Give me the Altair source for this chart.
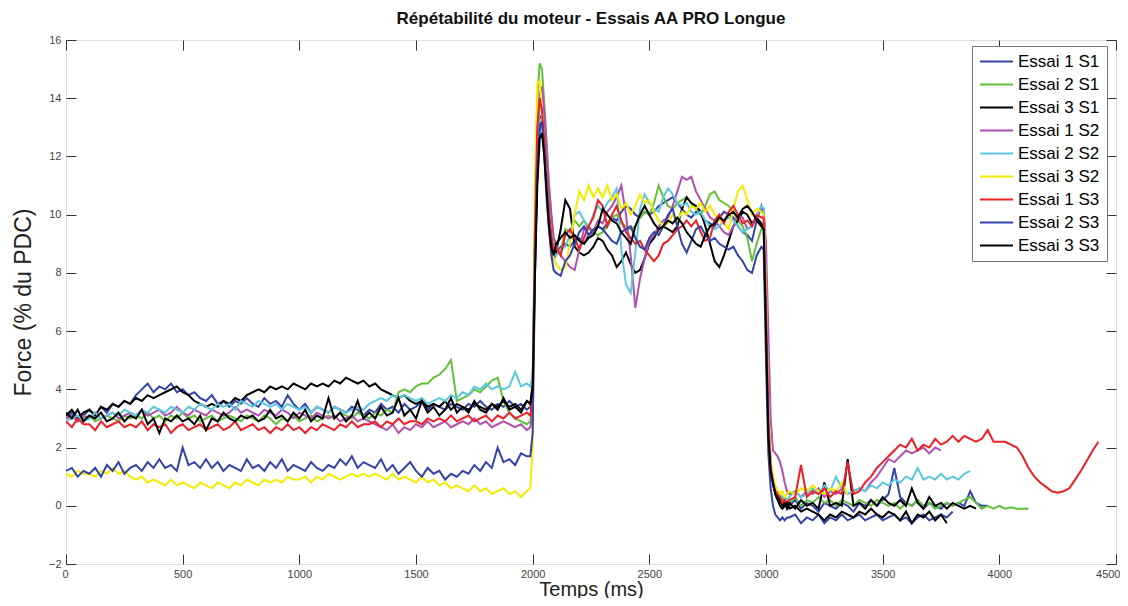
import altair as alt
import pandas as pd

SERIES = ["Essai 1 S1", "Essai 2 S1", "Essai 3 S1", "Essai 1 S2", "Essai 2 S2",
          "Essai 3 S2", "Essai 1 S3", "Essai 2 S3", "Essai 3 S3"]
COLORS = ["#3443a8", "#62c03a", "#000000", "#b24fb2", "#5cc8de",
          "#f4ec00", "#ee1f26", "#3443a8", "#000000"]

# sampling grid (ms)
T_BASE = list(range(0, 2000, 25))
T_PEAK = [1990, 2000, 2010, 2020, 2030, 2040, 2050, 2060, 2070, 2080, 2090]
T_PLAT = list(range(2100, 3000, 20))
T_DROP = [2990, 3000, 3010, 3020, 3030, 3040, 3050, 3060, 3070, 3080, 3090]
T_TAIL = list(range(3100, 4450, 25))
T_ALL = T_BASE + T_PEAK + T_PLAT + T_DROP + T_TAIL

E1S1 = ([3.0, 3.2, 2.9, 3.1, 3.3, 3.1, 3.4, 3.2, 3.5, 3.4, 3.6, 3.5, 3.8, 4.0, 4.2, 3.9,
         4.1, 4.0, 4.2, 3.9, 4.0, 3.8, 3.9, 3.7, 3.6, 3.8, 3.5, 3.6, 3.4, 3.6, 3.5, 3.7,
         3.5, 3.4, 3.7, 3.5, 3.6, 3.4, 3.8, 3.5, 3.3, 3.5, 3.2, 3.4, 3.3, 3.2, 3.4, 3.3,
         3.2, 3.4, 3.3, 3.1, 3.3, 3.2, 3.5, 3.3, 3.4, 3.2, 3.5, 3.3, 3.4, 3.6, 3.3, 3.5,
         3.4, 3.3, 3.5, 3.4, 3.3, 3.5, 3.4, 3.6, 3.4, 3.3, 3.5, 3.4, 3.6, 3.4, 3.5, 3.3]
        + [3.4, 4.0, 9.0, 12.0, 13.4, 13.3, 12.2, 10.8, 9.6, 8.8, 8.5]
        + [8.6, 8.9, 9.0, 8.9, 9.1, 9.2, 9.0, 9.3, 9.4, 9.6, 9.5, 9.7, 9.9, 9.8, 10.1,
           10.3, 10.2, 10.0, 9.9, 10.1, 10.0, 10.1, 10.3, 10.4, 10.5, 10.6, 10.4, 10.2, 10.0, 9.9,
           10.1, 10.0, 9.8, 9.7, 9.6, 9.9, 10.1, 10.0, 9.9, 9.6, 9.4, 9.3, 9.1, 9.8, 10.3]
        + [10.0, 6.0, 2.5, 1.2, 0.7, 0.4, 0.2, 0.1, 0.2, 0.0, 0.1]
        + [0.0, 0.2, -0.1, 0.1, 0.0, -0.2, 0.1, 0.0, -0.1, 0.1, 0.0, -0.2, 0.1, 0.0, 0.2, 0.0,
           0.2, 0.4, 1.3, 0.3, 0.1, 0.0, 0.2, -0.1, 0.1, 0.0, -0.1, 0.1, 0.0, 0.1, 0.0, 0.5,
           0.1, 0.0, 0.0])

E2S1 = ([3.0, 3.1, 2.9, 3.0, 3.1, 2.9, 3.0, 3.1, 3.0, 2.9, 3.1, 3.0, 3.1, 3.0, 3.2, 3.0,
         3.1, 2.9, 3.1, 3.0, 3.2, 3.0, 3.1, 2.9, 3.0, 3.1, 2.9, 3.0, 3.1, 3.0, 2.9, 3.1,
         3.0, 2.9, 3.1, 3.0, 2.8, 3.0, 2.9, 3.1, 2.9, 3.0, 3.1, 2.9, 3.0, 3.1, 3.0, 3.2,
         3.1, 3.0, 3.2, 3.1, 3.0, 3.2, 3.1, 3.3, 3.2, 3.9, 4.0, 3.9, 4.1, 4.2, 4.2, 4.4,
         4.5, 4.7, 5.0, 3.6, 3.7, 3.8, 4.0, 3.9, 4.1, 4.3, 4.4, 3.6, 3.2, 3.0, 2.9, 2.8]
        + [2.9, 4.0, 10.0, 14.0, 15.2, 15.0, 13.8, 12.5, 11.0, 10.0, 9.2]
        + [8.9, 8.7, 9.5, 9.4, 9.8, 9.6, 9.8, 9.5, 9.4, 9.3, 9.4, 9.6, 9.9, 10.0, 9.7,
           9.6, 9.5, 9.6, 9.9, 10.1, 10.0, 10.4, 11.0, 10.6, 10.3, 10.2, 10.4, 10.5, 10.6, 10.4,
           10.2, 10.0, 10.3, 10.7, 10.8, 10.5, 10.4, 10.3, 10.1, 9.8, 9.6, 9.2, 8.4, 9.0, 9.5]
        + [9.6, 7.0, 3.0, 1.5, 0.9, 0.6, 0.4, 0.3, 0.2, 0.3, 0.1]
        + [0.1, 0.3, 0.0, 0.2, 0.1, 0.3, 0.1, 0.2, 0.0, 0.2, 0.1, 0.0, 0.2, 0.1, 0.0, 0.2,
           0.1, 0.0, 0.1, -0.1, 0.1, 0.0, 0.2, 0.0, 0.1, -0.1, 0.0, 0.1, 0.0, 0.1, 0.2, 0.3,
           0.1, -0.1, 0.0, -0.1, 0.0, -0.1, -0.05, -0.1, -0.1, -0.1])

E3S1 = ([3.1, 3.3, 3.0, 3.2, 3.3, 3.1, 3.4, 3.3, 3.5, 3.4, 3.6, 3.5, 3.7, 3.6, 3.8, 3.7,
         3.8, 3.9, 4.0, 4.1, 3.9, 3.8, 3.6, 3.5, 3.4, 3.5, 3.4, 3.6, 3.5, 3.7, 3.6, 3.8,
         3.9, 4.0, 3.9, 4.1, 4.0, 4.1, 4.0, 4.2, 4.1, 4.0, 4.2, 4.1, 4.2, 4.1, 4.3, 4.2,
         4.4, 4.3, 4.2, 4.3, 4.1, 4.2, 4.0, 3.9, 3.8, 3.7, 3.8, 3.6, 3.5, 3.6, 3.4, 3.5,
         3.4, 3.6, 3.3, 3.5, 3.4, 3.3, 3.5, 3.4, 3.3, 3.5, 3.4, 3.6, 3.4, 3.5, 3.3, 3.6]
        + [3.5, 4.2, 8.5, 11.5, 13.0, 13.2, 12.5, 11.2, 10.0, 9.2, 8.8]
        + [8.7, 9.5, 10.5, 10.2, 8.9, 8.7, 8.6, 8.7, 8.9, 9.2, 9.1, 8.8, 8.6, 8.2, 8.4,
           8.7, 8.3, 8.0, 8.1, 8.5, 9.0, 9.2, 9.5, 9.6, 9.5, 9.4, 9.6, 10.2, 10.6, 10.4,
           10.3, 10.1, 9.6, 9.0, 8.4, 8.2, 8.6, 9.1, 9.6, 9.8, 10.1, 10.0, 9.7, 9.9, 9.7]
        + [9.6, 6.5, 2.8, 1.4, 0.9, 0.6, 0.3, 0.2, 0.0, 0.1, -0.1]
        + [0.1, -0.1, 0.2, 0.0, 0.1, -0.1, 0.8, 0.0, 0.1, 0.0, 1.6, 0.0, 0.1, -0.1, 0.2, 0.0,
           0.3, 0.1, 0.0, 0.2, 0.0, 0.6, 0.1, -0.1, 0.3, 0.0, 0.1, -0.1, 0.1, 0.0, -0.1, 0.0,
           -0.1])

E1S2 = ([3.0, 3.1, 2.9, 3.1, 3.0, 3.2, 3.0, 3.1, 3.2, 3.0, 3.1, 3.2, 3.1, 3.3, 3.1, 3.2,
         3.3, 3.1, 3.2, 3.4, 3.2, 3.1, 3.3, 3.2, 3.1, 3.3, 3.2, 3.1, 3.2, 3.4, 3.2, 3.3,
         3.2, 3.1, 3.3, 3.2, 3.1, 3.3, 3.2, 3.0, 3.2, 3.1, 3.0, 3.2, 3.1, 3.0, 3.1, 2.9,
         3.0, 3.1, 2.9, 3.0, 2.9, 2.8, 2.7, 2.6, 2.8, 2.5, 2.7, 2.6, 2.8, 2.7, 2.9, 2.7,
         2.8, 2.9, 2.7, 2.8, 2.9, 2.8, 3.0, 2.8, 2.9, 2.7, 2.8, 2.9, 2.8, 2.7, 2.8, 2.6]
        + [2.7, 3.2, 8.0, 12.5, 14.2, 14.4, 13.5, 12.2, 11.0, 10.0, 9.2]
        + [9.0, 8.6, 8.4, 8.2, 8.1, 8.8, 9.5, 9.6, 9.4, 9.8, 9.7, 10.1, 10.3, 10.6, 11.0,
           10.0, 8.6, 6.8, 7.8, 8.5, 9.1, 9.3, 9.6, 9.8, 9.9, 10.3, 10.8, 11.3, 11.2, 11.3,
           10.8, 10.5, 10.2, 9.9, 9.8, 9.6, 9.4, 9.3, 9.6, 10.0, 9.9, 9.5, 9.6, 9.9, 10.2]
        + [10.2, 9.0, 6.0, 3.0, 1.9, 1.8, 1.7, 1.5, 1.2, 0.8, 0.5]
        + [0.4, 0.5, 0.3, 0.5, 0.4, 0.6, 0.3, 0.5, 0.4, 0.6, 0.4, 0.5, 0.6, 0.5, 0.8, 1.0,
           1.3, 1.6, 1.5, 1.7, 1.9, 1.8, 1.9, 2.0, 1.8, 2.0, 1.9])

E2S2 = ([2.9, 3.0, 3.1, 2.9, 3.0, 3.2, 3.0, 3.1, 3.2, 3.1, 3.3, 3.2, 3.1, 3.3, 3.2, 3.4,
         3.3, 3.2, 3.4, 3.3, 3.2, 3.4, 3.3, 3.5, 3.4, 3.3, 3.5, 3.4, 3.5, 3.3, 3.6, 3.5,
         3.4, 3.6, 3.5, 3.4, 3.5, 3.3, 3.5, 3.4, 3.3, 3.4, 3.2, 3.4, 3.3, 3.2, 3.4, 3.3,
         3.2, 3.3, 3.4, 3.3, 3.5, 3.6, 3.7, 3.6, 3.8, 3.7, 3.8, 3.7, 3.6, 3.7, 3.5, 3.6,
         3.7, 3.6, 3.8, 3.7, 3.9, 3.8, 4.1, 4.0, 4.2, 4.0, 4.1, 4.0, 4.1, 4.6, 4.1, 4.2]
        + [4.1, 4.5, 9.0, 12.5, 13.8, 13.5, 12.3, 11.0, 9.8, 9.0, 8.6]
        + [8.6, 8.8, 8.9, 9.3, 10.0, 10.1, 9.8, 9.6, 10.0, 10.3, 10.1, 10.4, 10.6, 10.9, 8.8,
           7.6, 7.3, 8.7, 10.2, 10.7, 10.4, 10.2, 10.1, 10.6, 10.9, 10.7, 10.4, 10.3, 10.4, 10.1,
           10.0, 10.1, 9.8, 9.6, 9.5, 9.6, 9.8, 9.9, 9.8, 9.6, 9.4, 9.5, 9.6, 10.0, 10.3]
        + [10.2, 7.8, 3.5, 1.5, 0.9, 0.6, 0.5, 0.4, 0.3, 0.3, 0.2]
        + [0.3, 0.5, 0.3, 0.4, 0.6, 0.4, 0.7, 0.5, 1.0, 0.6, 0.4, 0.5, 0.6, 0.5, 0.7, 0.6,
           0.8, 0.7, 0.9, 0.8, 1.0, 0.9, 1.3, 0.9, 1.0, 0.9, 1.1, 0.9, 1.0, 0.9, 1.1, 1.2])

E3S2 = ([1.1, 1.0, 1.2, 1.1, 1.1, 1.0, 1.2, 1.1, 1.3, 1.1, 1.2, 1.0, 0.9, 1.0, 0.8, 0.9,
         0.8, 0.7, 0.9, 0.7, 0.8, 0.7, 0.6, 0.8, 0.7, 0.6, 0.8, 0.7, 0.6, 0.8, 0.7, 0.9,
         0.8, 0.7, 0.9, 0.8, 0.9, 0.8, 1.0, 0.9, 0.9, 1.0, 0.8, 1.0, 0.9, 1.1, 1.0, 0.9,
         1.0, 1.1, 1.0, 1.1, 1.0, 1.1, 1.0, 0.9, 1.1, 0.9, 1.0, 0.9, 0.8, 1.0, 0.8, 0.9,
         0.7, 0.8, 0.6, 0.7, 0.6, 0.5, 0.7, 0.5, 0.6, 0.4, 0.5, 0.6, 0.4, 0.5, 0.3, 0.5]
        + [0.6, 2.0, 11.0, 14.5, 14.6, 13.5, 12.0, 10.8, 9.8, 9.0, 8.5]
        + [8.3, 8.1, 8.2, 9.0, 10.0, 10.8, 10.5, 11.0, 10.6, 10.9, 10.6, 11.0, 10.5, 10.7, 10.2,
           10.4, 10.0, 10.3, 10.7, 10.4, 10.5, 10.1, 9.8, 9.6, 9.7, 10.0, 9.8, 10.1, 10.0, 10.3,
           10.2, 10.4, 10.1, 10.3, 10.0, 9.8, 9.7, 9.5, 10.2, 10.8, 11.0, 10.5, 10.0, 10.2, 10.1]
        + [10.0, 7.5, 3.2, 1.6, 1.0, 0.7, 0.5, 0.4, 0.5, 0.3, 0.4]
        + [0.5, 0.4, 0.6, 0.5, 0.7, 0.5, 0.4, 0.6, 0.5, 0.8, 0.4])

E1S3 = ([2.9, 2.7, 3.0, 2.8, 2.8, 2.6, 2.9, 2.7, 2.8, 2.9, 2.7, 2.8, 2.7, 2.9, 2.6, 2.8,
         2.7, 2.8, 2.5, 2.7, 2.8, 2.6, 2.7, 2.8, 2.6, 2.7, 2.8, 2.6, 2.7, 2.9, 2.6, 2.7,
         2.8, 2.6, 2.7, 2.5, 2.7, 2.6, 2.8, 2.6, 2.7, 2.5, 2.7, 2.6, 2.8, 2.7, 2.6, 2.8,
         2.7, 2.9, 2.7, 2.8, 2.8, 2.9, 2.7, 2.9, 2.8, 3.0, 2.8, 2.9, 2.9, 2.8, 3.0, 2.9,
         3.0, 2.9, 3.1, 2.9, 3.0, 3.1, 2.9, 3.0, 3.1, 2.9, 3.1, 3.0, 3.2, 3.0, 3.1, 3.2]
        + [3.1, 3.8, 9.5, 13.0, 14.0, 13.6, 12.5, 11.0, 10.0, 9.2, 8.8]
        + [8.9, 8.6, 9.3, 9.5, 9.2, 8.8, 9.2, 9.6, 9.9, 10.5, 10.3, 9.6, 10.0, 10.3, 9.8,
           9.4, 9.2, 9.0, 9.1, 8.8, 8.6, 8.4, 8.6, 9.0, 9.1, 9.3, 9.5, 9.6, 9.8, 9.6,
           9.8, 9.4, 9.1, 9.2, 9.8, 10.0, 9.7, 10.1, 10.3, 10.0, 9.7, 9.8, 9.6, 10.0, 9.9]
        + [9.9, 7.0, 3.0, 1.3, 0.8, 0.5, 0.4, 0.3, 0.1, 0.2, 0.1]
        + [0.2, 0.3, 1.4, 0.3, 0.5, 0.4, 0.6, 0.3, 0.5, 0.4, 1.5, 0.4, 0.5, 0.8, 1.0, 1.3,
           1.5, 1.7, 1.9, 2.1, 2.0, 2.3, 1.9, 2.1, 2.0, 2.3, 2.1, 2.2, 2.4, 2.2, 2.4, 2.3,
           2.2, 2.3, 2.6, 2.2, 2.2, 2.2, 2.1, 2.0, 1.7, 1.3, 1.0, 0.8, 0.65, 0.5, 0.45, 0.5,
           0.6, 0.9, 1.2, 1.55, 1.9, 2.2])

E2S3 = ([1.2, 1.3, 1.0, 1.2, 1.1, 1.3, 1.0, 1.4, 1.2, 1.5, 1.1, 1.3, 1.4, 1.2, 1.5, 1.3,
         1.6, 1.3, 1.4, 1.2, 2.0, 1.4, 1.5, 1.3, 1.6, 1.3, 1.5, 1.2, 1.4, 1.3, 1.2, 1.6,
         1.3, 1.4, 1.2, 1.5, 1.3, 1.6, 1.2, 1.4, 1.3, 1.2, 1.5, 1.3, 1.2, 1.4, 1.3, 1.6,
         1.4, 1.7, 1.3, 1.5, 1.4, 1.3, 1.6, 1.2, 1.4, 1.1, 1.3, 1.5, 1.2, 1.0, 1.3, 1.1,
         1.2, 0.9, 1.1, 1.0, 1.2, 1.1, 1.4, 1.2, 1.5, 1.3, 2.0, 1.5, 1.6, 1.4, 1.8, 1.7]
        + [1.7, 2.5, 8.0, 11.5, 13.0, 13.2, 12.0, 10.5, 9.5, 8.6, 8.1]
        + [8.0, 7.9, 8.4, 8.6, 9.0, 9.4, 9.6, 9.3, 9.5, 9.6, 9.5, 9.3, 9.1, 9.0, 9.4,
           9.5, 9.6, 9.2, 8.9, 8.8, 9.2, 9.4, 9.3, 9.6, 10.0, 10.2, 9.6, 9.0, 8.7, 9.1,
           9.5, 9.6, 9.3, 9.1, 9.2, 9.0, 8.9, 8.8, 8.9, 8.6, 8.4, 8.1, 8.0, 8.6, 8.9]
        + [8.8, 5.0, 1.8, 0.6, 0.0, -0.3, -0.4, -0.5, -0.4, -0.5, -0.4]
        + [-0.4, -0.3, -0.6, -0.4, -0.5, -0.3, -0.6, -0.4, -0.5, -0.3, -0.5, -0.4, -0.3, -0.5,
           -0.4, -0.3, -0.5, -0.4, -0.3, -0.5, -0.4, -0.6, -0.4, -0.3, -0.5, -0.4, -0.3, -0.4,
           -0.2])

E3S3 = ([3.2, 3.0, 3.3, 2.9, 3.1, 3.0, 3.2, 2.9, 3.0, 3.2, 2.9, 3.1, 3.0, 3.3, 2.8, 3.0,
         2.5, 3.0, 2.9, 3.1, 2.9, 3.0, 2.8, 3.1, 2.6, 3.0, 2.9, 3.2, 3.0, 2.9, 3.1, 3.0,
         3.1, 2.9, 3.0, 3.3, 3.0, 3.1, 2.9, 3.2, 3.0, 3.3, 2.9, 3.1, 3.0, 3.7, 3.0, 3.2,
         2.9, 3.1, 3.6, 3.0, 3.2, 3.0, 3.4, 3.1, 3.2, 3.7, 3.1, 3.3, 3.0, 3.6, 3.2, 3.4,
         3.1, 3.3, 3.7, 3.2, 3.4, 3.2, 3.6, 3.3, 3.2, 3.5, 3.3, 3.7, 3.3, 3.4, 3.2, 3.6]
        + [3.5, 4.0, 8.0, 11.0, 12.6, 12.8, 12.0, 10.8, 9.6, 8.9, 8.6]
        + [9.0, 9.2, 9.4, 9.2, 9.3, 9.1, 9.0, 9.2, 9.3, 9.6, 10.2, 10.0, 9.8, 9.7, 9.4,
           9.2, 9.0, 9.6, 10.0, 10.3, 10.0, 9.7, 9.5, 9.6, 9.8, 9.7, 9.9, 9.7, 9.4, 9.2,
           9.0, 8.9, 9.3, 9.6, 9.7, 9.9, 9.8, 10.0, 10.1, 9.9, 10.2, 10.3, 10.1, 9.8, 9.6]
        + [9.5, 6.0, 2.4, 1.2, 0.8, 0.4, 0.2, 0.0, -0.1, 0.0, 0.1]
        + [-0.1, 0.0, -0.2, -0.1, -0.2, -0.3, -0.5, -0.3, -0.4, -0.2, -0.3, -0.4, -0.2, -0.3,
           -0.1, -0.3, -0.4, -0.2, -0.3, -0.5, -0.2, -0.6, -0.3, -0.4, -0.2, -0.5, -0.3, -0.6])

VALUES = [E1S1, E2S1, E3S1, E1S2, E2S2, E3S2, E1S3, E2S3, E3S3]

rows = []
for name, vals in zip(SERIES, VALUES):
    for t, v in zip(T_ALL[:len(vals)], vals):
        rows.append({"series": name, "time": t, "force": v})
df = pd.DataFrame(rows)

FONT = "Liberation Sans"
xscale = alt.Scale(domain=[0, 4500], nice=False, zero=False)
yscale = alt.Scale(domain=[-2, 16], nice=False, zero=False)
TICKS = dict(grid=True, gridDash=[10, 3000], gridColor="#333333", gridOpacity=1,
             gridWidth=1, ticks=False, domain=False)

lines = alt.Chart(df).mark_line(strokeWidth=2, clip=True).encode(
    x=alt.X("time:Q", scale=xscale,
            axis=alt.Axis(title="Temps (ms)", values=list(range(0, 4501, 500)), format="d",
                          labelFlush=True, labelFlushOffset=4,
                          labelFont=FONT, labelFontSize=11, labelColor="#444444",
                          labelPadding=4, titleFont=FONT, titleFontSize=20,
                          titleFontWeight="normal", titleColor="#222222",
                          titlePadding=0, **TICKS)),
    y=alt.Y("force:Q", scale=yscale,
            axis=alt.Axis(title="Force (% du PDC)", values=list(range(-2, 17, 2)), format="d",
                          labelFlush=False,
                          labelFont=FONT, labelFontSize=11, labelColor="#444444",
                          labelPadding=5, titleFont=FONT, titleFontSize=23,
                          titleFontWeight="normal", titleColor="#222222",
                          titlePadding=13, **TICKS)),
    color=alt.Color("series:N", scale=alt.Scale(domain=SERIES, range=COLORS),
                    legend=alt.Legend(title=None, orient="none", legendX=906, legendY=6,
                                      symbolType="M-1,0H3.4", symbolSize=225,
                                      symbolStrokeWidth=2, labelFont=FONT,
                                      labelFontSize=17, labelColor="#000000",
                                      labelOffset=22, rowPadding=5, padding=7,
                                      fillColor="#ffffff", strokeColor="#777777")),
    order=alt.Order("time:Q"),
)

frame_df = pd.DataFrame({"time": [0, 4500], "force": [-2, 16]})
frame = alt.Chart(frame_df).mark_point(opacity=0).encode(
    x=alt.X("time:Q", scale=xscale,
            axis=alt.Axis(orient="top", title=None, labels=False,
                          values=list(range(0, 4501, 500)), **TICKS)),
    y=alt.Y("force:Q", scale=yscale,
            axis=alt.Axis(orient="right", title=None, labels=False,
                          values=list(range(-2, 17, 2)), **TICKS)),
)

chart = alt.layer(lines, frame).resolve_axis(x="independent", y="independent").properties(
    width=1050, height=524,
    title=alt.TitleParams("Répétabilité du moteur - Essais AA PRO Longue", font=FONT,
                          fontSize=17, fontWeight="bold", color="#111111",
                          anchor="middle", offset=6),
    autosize=alt.AutoSizeParams(type="none"),
    padding={"left": 58, "top": 32, "right": 4, "bottom": 34},
).configure_view(stroke="#333333", strokeWidth=1).configure(background="white")

chart.save("out.html", embed_options={"renderer": "svg", "actions": False})
